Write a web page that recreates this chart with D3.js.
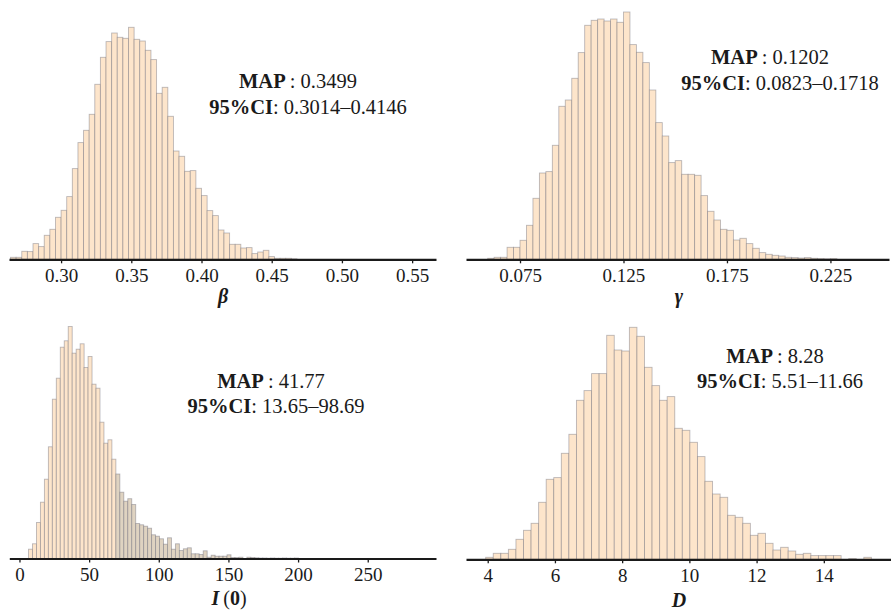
<!DOCTYPE html>
<html>
<head>
<meta charset="utf-8">
<script src="https://cdn.jsdelivr.net/npm/d3@7/dist/d3.min.js"></script>
<style>
  html, body { margin: 0; padding: 0; background: #fff; }
  svg { display: block; }
  text { font-family: "Liberation Serif", "Times New Roman", serif; fill: #1a1a1a; }
</style>
</head>
<body>
<svg id="chart" width="891" height="611"></svg>
<script>
// Posterior samples, binned: counts per bin for each parameter.
const betaBinStart = 0.264;
const betaBinWidth = 0.004;
const betaCounts = [2, 2, 8, 7.7, 15.7, 12.7, 24, 30, 42, 49, 62.7, 90.7, 116.7, 129, 145, 175, 202, 217.7,
  226.3, 222, 221, 232, 220, 218.3, 209, 199.7, 166, 172, 143, 108.3, 103, 88, 88.7, 71, 63.7, 48.7,
  43.7, 29.3, 26.3, 15, 15, 11.3, 11.7, 5.7, 7.3, 9, 2.7, 1, 1, 1, 0.5];
const betaDomain = [0.2629, 0.567];
const betaTicks = [0.30, 0.35, 0.40, 0.45, 0.50, 0.55];

const gammaBinStart = 0.059375;
const gammaBinWidth = 0.003125;
const gammaCounts = [1, 2, 2, 12, 12, 19, 34, 61, 86.3, 87.7, 114, 153, 159.3, 181, 206.7, 234, 239, 240.3,
  238.3, 240.3, 237, 247.3, 214.7, 207, 196.7, 169.3, 136.7, 123.3, 96.7, 98.7, 85, 85, 84, 63.7, 48,
  39.3, 30, 29, 19.3, 21, 15.7, 11, 6.7, 5, 4, 3.3, 2, 1.7, 1.3, 1.7, 1, 0.7, 0.5, 0.7];
const gammaDomain = [0.0489, 0.2533];
const gammaTicks = [0.075, 0.125, 0.175, 0.225];

const i0BinStart = 6.5;
const i0BinWidth = 2.85;
const i0Counts = [9.3, 14.7, 36, 56.3, 79.3, 111.7, 159.3, 180.3, 211.3, 217.7, 232, 205.3, 209.3, 214.7,
  191, 202, 174.3, 170.3, 136.3, 115.3, 118.7, 99.3,
  84.5, 66.3, 57.3, 59.8, 54, 35, 33.7, 32.3, 30.3, 23.7, 22.3, 19.7, 14.3, 20.7, 9.3, 14.7, 8, 9.7,
  10.7, 4.7, 4.7, 4, 7.7, 1.3, 3.3, 2.3, 2.3, 2.3, 3.7, 1, 1, 1.3, 0, 1.3, 1, 0.7,
  0.5, 0.5, 0.3, 0.5, 0.3, 0.3, 0.5, 0.3, 0.3, 0.5];
const i0TailFromBin = 22;
const i0Domain = [-7.3, 299];
const i0Ticks = [0, 50, 100, 150, 200, 250];

const dBinStart = 3.94;
const dBinWidth = 0.225;
const dCounts = [2, 6, 6, 10, 20, 29, 36, 57, 80, 81.7, 106, 125, 159, 168.7, 185.7, 185.7, 224, 209.3,
  208.3, 232, 223, 192, 173.7, 159, 162.7, 131, 129, 117, 102.7, 78, 65.3, 62, 44, 42, 36, 24, 26, 16,
  9.3, 12, 8.3, 5, 6, 3.7, 3.7, 3.7, 3.7, 0, 0.7, 0, 2];
const dDomain = [3.354, 15.99];
const dTicks = [4, 6, 8, 10, 12, 14];

// Summary statistics shown in each panel.
const mapValues = ["0.3499", "0.1202", "41.77", "8.28"];
const ciRanges = ["0.3014\u20130.4146", "0.0823\u20130.1718", "13.65\u201398.69", "5.51\u201311.66"];

const svg = d3.select("#chart");
const FILL = "#fde5cb";
const TAIL_FILL = "#dfd3c1";

const panels = [
  { counts: betaCounts, start: betaBinStart, width: betaBinWidth, domain: betaDomain, ticks: betaTicks,
    fmt: d3.format(".2f"), left: 9, right: 436, base: 259.3, tail: Infinity,
    title: [{ t: "\u03b2", w: "bold", s: "italic" }], titleX: 223, titleY: 303,
    map: { x: 298, y: 88 }, ci: { x: 308, y: 114 } },
  { counts: gammaCounts, start: gammaBinStart, width: gammaBinWidth, domain: gammaDomain, ticks: gammaTicks,
    fmt: d3.format(".3f"), left: 466, right: 889, base: 259.3, tail: Infinity,
    title: [{ t: "\u03b3", w: "bold", s: "italic" }], titleX: 679, titleY: 303,
    map: { x: 770, y: 64 }, ci: { x: 780, y: 90 } },
  { counts: i0Counts, start: i0BinStart, width: i0BinWidth, domain: i0Domain, ticks: i0Ticks,
    fmt: d3.format("d"), left: 9.3, right: 436, base: 558.5, tail: i0TailFromBin,
    title: [{ t: "I", w: "bold", s: "italic" }, { t: "\u2009(", w: "normal", s: "normal" },
            { t: "0", w: "bold", s: "normal" }, { t: ")", w: "normal", s: "normal" }],
    titleX: 229, titleY: 605,
    map: { x: 271, y: 388 }, ci: { x: 276, y: 413 } },
  { counts: dCounts, start: dBinStart, width: dBinWidth, domain: dDomain, ticks: dTicks,
    fmt: d3.format("d"), left: 466, right: 890.7, base: 559.3, tail: Infinity,
    title: [{ t: "D", w: "bold", s: "italic" }], titleX: 679, titleY: 607,
    map: { x: 775, y: 363 }, ci: { x: 780, y: 388 } }
];

panels.forEach((p, pi) => {
  const x = d3.scaleLinear().domain(p.domain).range([p.left, p.right]);
  const y = d3.scaleLinear().domain([0, 250]).range([p.base, p.base - 250]);
  const g = svg.append("g");

  const bins = p.counts.map((c, i) => ({ x0: p.start + i * p.width, x1: p.start + (i + 1) * p.width, c, i }));

  g.selectAll("rect.bar")
    .data(bins.filter(b => b.c > 0))
    .join("rect")
    .attr("class", "bar")
    .attr("x", b => x(b.x0))
    .attr("width", b => x(b.x1) - x(b.x0))
    .attr("y", b => y(b.c))
    .attr("height", b => y(0) - y(b.c))
    .attr("fill", b => (b.i >= p.tail ? TAIL_FILL : FILL))
    .attr("stroke", "#5f5f6e")
    .attr("stroke-opacity", 0.42)
    .attr("stroke-width", 0.9);

  const axis = d3.axisBottom(x)
    .tickValues(p.ticks)
    .tickFormat(p.fmt)
    .tickSize(4)
    .tickSizeOuter(0)
    .tickPadding(5);

  const ax = g.append("g")
    .attr("transform", `translate(0,${p.base})`)
    .call(axis);
  ax.select(".domain").attr("stroke", "#1a1a1a").attr("stroke-width", 2.2);
  ax.selectAll(".tick line").attr("stroke", "#1a1a1a").attr("stroke-width", 1.3);
  ax.selectAll(".tick text")
    .attr("fill", "#1a1a1a")
    .style("font-family", "'Liberation Serif', 'Times New Roman', serif")
    .style("font-size", "19px");

  // Axis title
  const tt = g.append("text")
    .attr("x", p.titleX)
    .attr("y", p.titleY)
    .attr("text-anchor", "middle")
    .style("font-size", "20px");
  p.title.forEach(part => {
    tt.append("tspan").text(part.t).attr("font-weight", part.w).attr("font-style", part.s);
  });

  // MAP and credible interval labels
  const m = g.append("text")
    .attr("x", p.map.x).attr("y", p.map.y)
    .attr("text-anchor", "middle")
    .style("font-size", "20.5px");
  m.append("tspan").attr("font-weight", "bold").text("MAP");
  m.append("tspan").text("\u2009: " + mapValues[pi]);

  const c = g.append("text")
    .attr("x", p.ci.x).attr("y", p.ci.y)
    .attr("text-anchor", "middle")
    .style("font-size", "20.5px");
  c.append("tspan").attr("font-weight", "bold").text("95%CI");
  c.append("tspan").text(": " + ciRanges[pi]);
});
</script>
</body>
</html>
